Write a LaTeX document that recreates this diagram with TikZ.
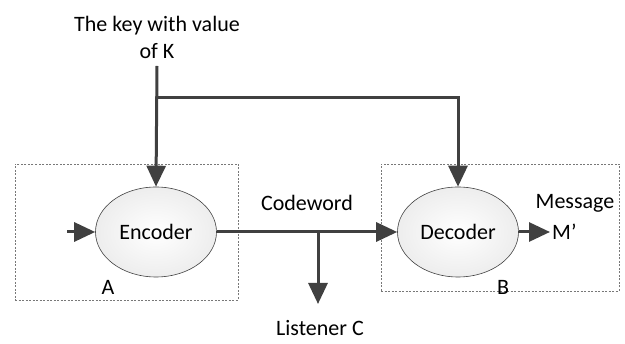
\documentclass[tikz,border=0pt]{standalone}
\usepackage{fontspec}
\setmainfont{Carlito}
\usepackage{tikz}
\usetikzlibrary{arrows.meta,positioning,shapes.geometric}
\definecolor{linegray}{RGB}{64,64,64}
\definecolor{zonegray}{RGB}{120,120,120}
\tikzset{
  coder/.style={draw=linegray,ellipse,line width=0.6pt,minimum width=121pt,minimum height=90pt,inner sep=0pt,
    inner color=white,outer color=gray!14,font=\fontsize{22}{26}\selectfont},
  zone/.style={draw=zonegray,line width=0.8pt,dash pattern=on 2pt off 1.5pt,inner sep=0pt},
  label/.style={font=\fontsize{22}{27}\selectfont,align=center,inner sep=0pt},
  arrow/.style={-{Triangle[length=21pt,width=19pt]},line width=3pt,draw=linegray},
  wire/.style={line width=3pt,draw=linegray}
}
\begin{document}
\begin{tikzpicture}[x=1pt,y=-1pt]
\useasboundingbox (0,0) rectangle (625,344);
% boxes A and B
\node[zone,minimum width=223pt,minimum height=136pt] (boxa) at (126.5,232) {};
\node[zone,minimum width=238pt,minimum height=127pt] (boxb) at (500,227.5) {};
\node[label] (la) at (108,287) {A};
\node[label] (lb) at (503,287) {B};
% encoder / decoder
\node[coder] (enc) at (156,232) {Encoder};
\node[coder] (dec) at (458,232) {Decoder};
% key
\node[label] (key) at (157,37) {The key with value\\of K};
\coordinate (kt) at (157,66);
\coordinate (kj) at (157,98);
\draw[arrow] (kt) -- (enc.north);
\draw[arrow] (kj) -| (dec.north);
% input and output
\coordinate (in) at (67,232);
\coordinate (out) at (550,232);
\draw[arrow] (in) -- (enc.west);
\draw[arrow] (dec.east) -- (out);
\node[label] (msg) at (575,203) {Message};
\node[label,anchor=west] (mp) at (552,232) {M’};
% codeword and listener
\draw[arrow] (enc.east) -- node[label,above=20pt,pos=0.5] (cw) {Codeword} (dec.west);
\coordinate (tap) at (318,232);
\coordinate (lis) at (318,304);
\draw[arrow] (tap) -- (lis);
\node[label] (lc) at (320,328) {Listener C};
\end{tikzpicture}
\end{document}
